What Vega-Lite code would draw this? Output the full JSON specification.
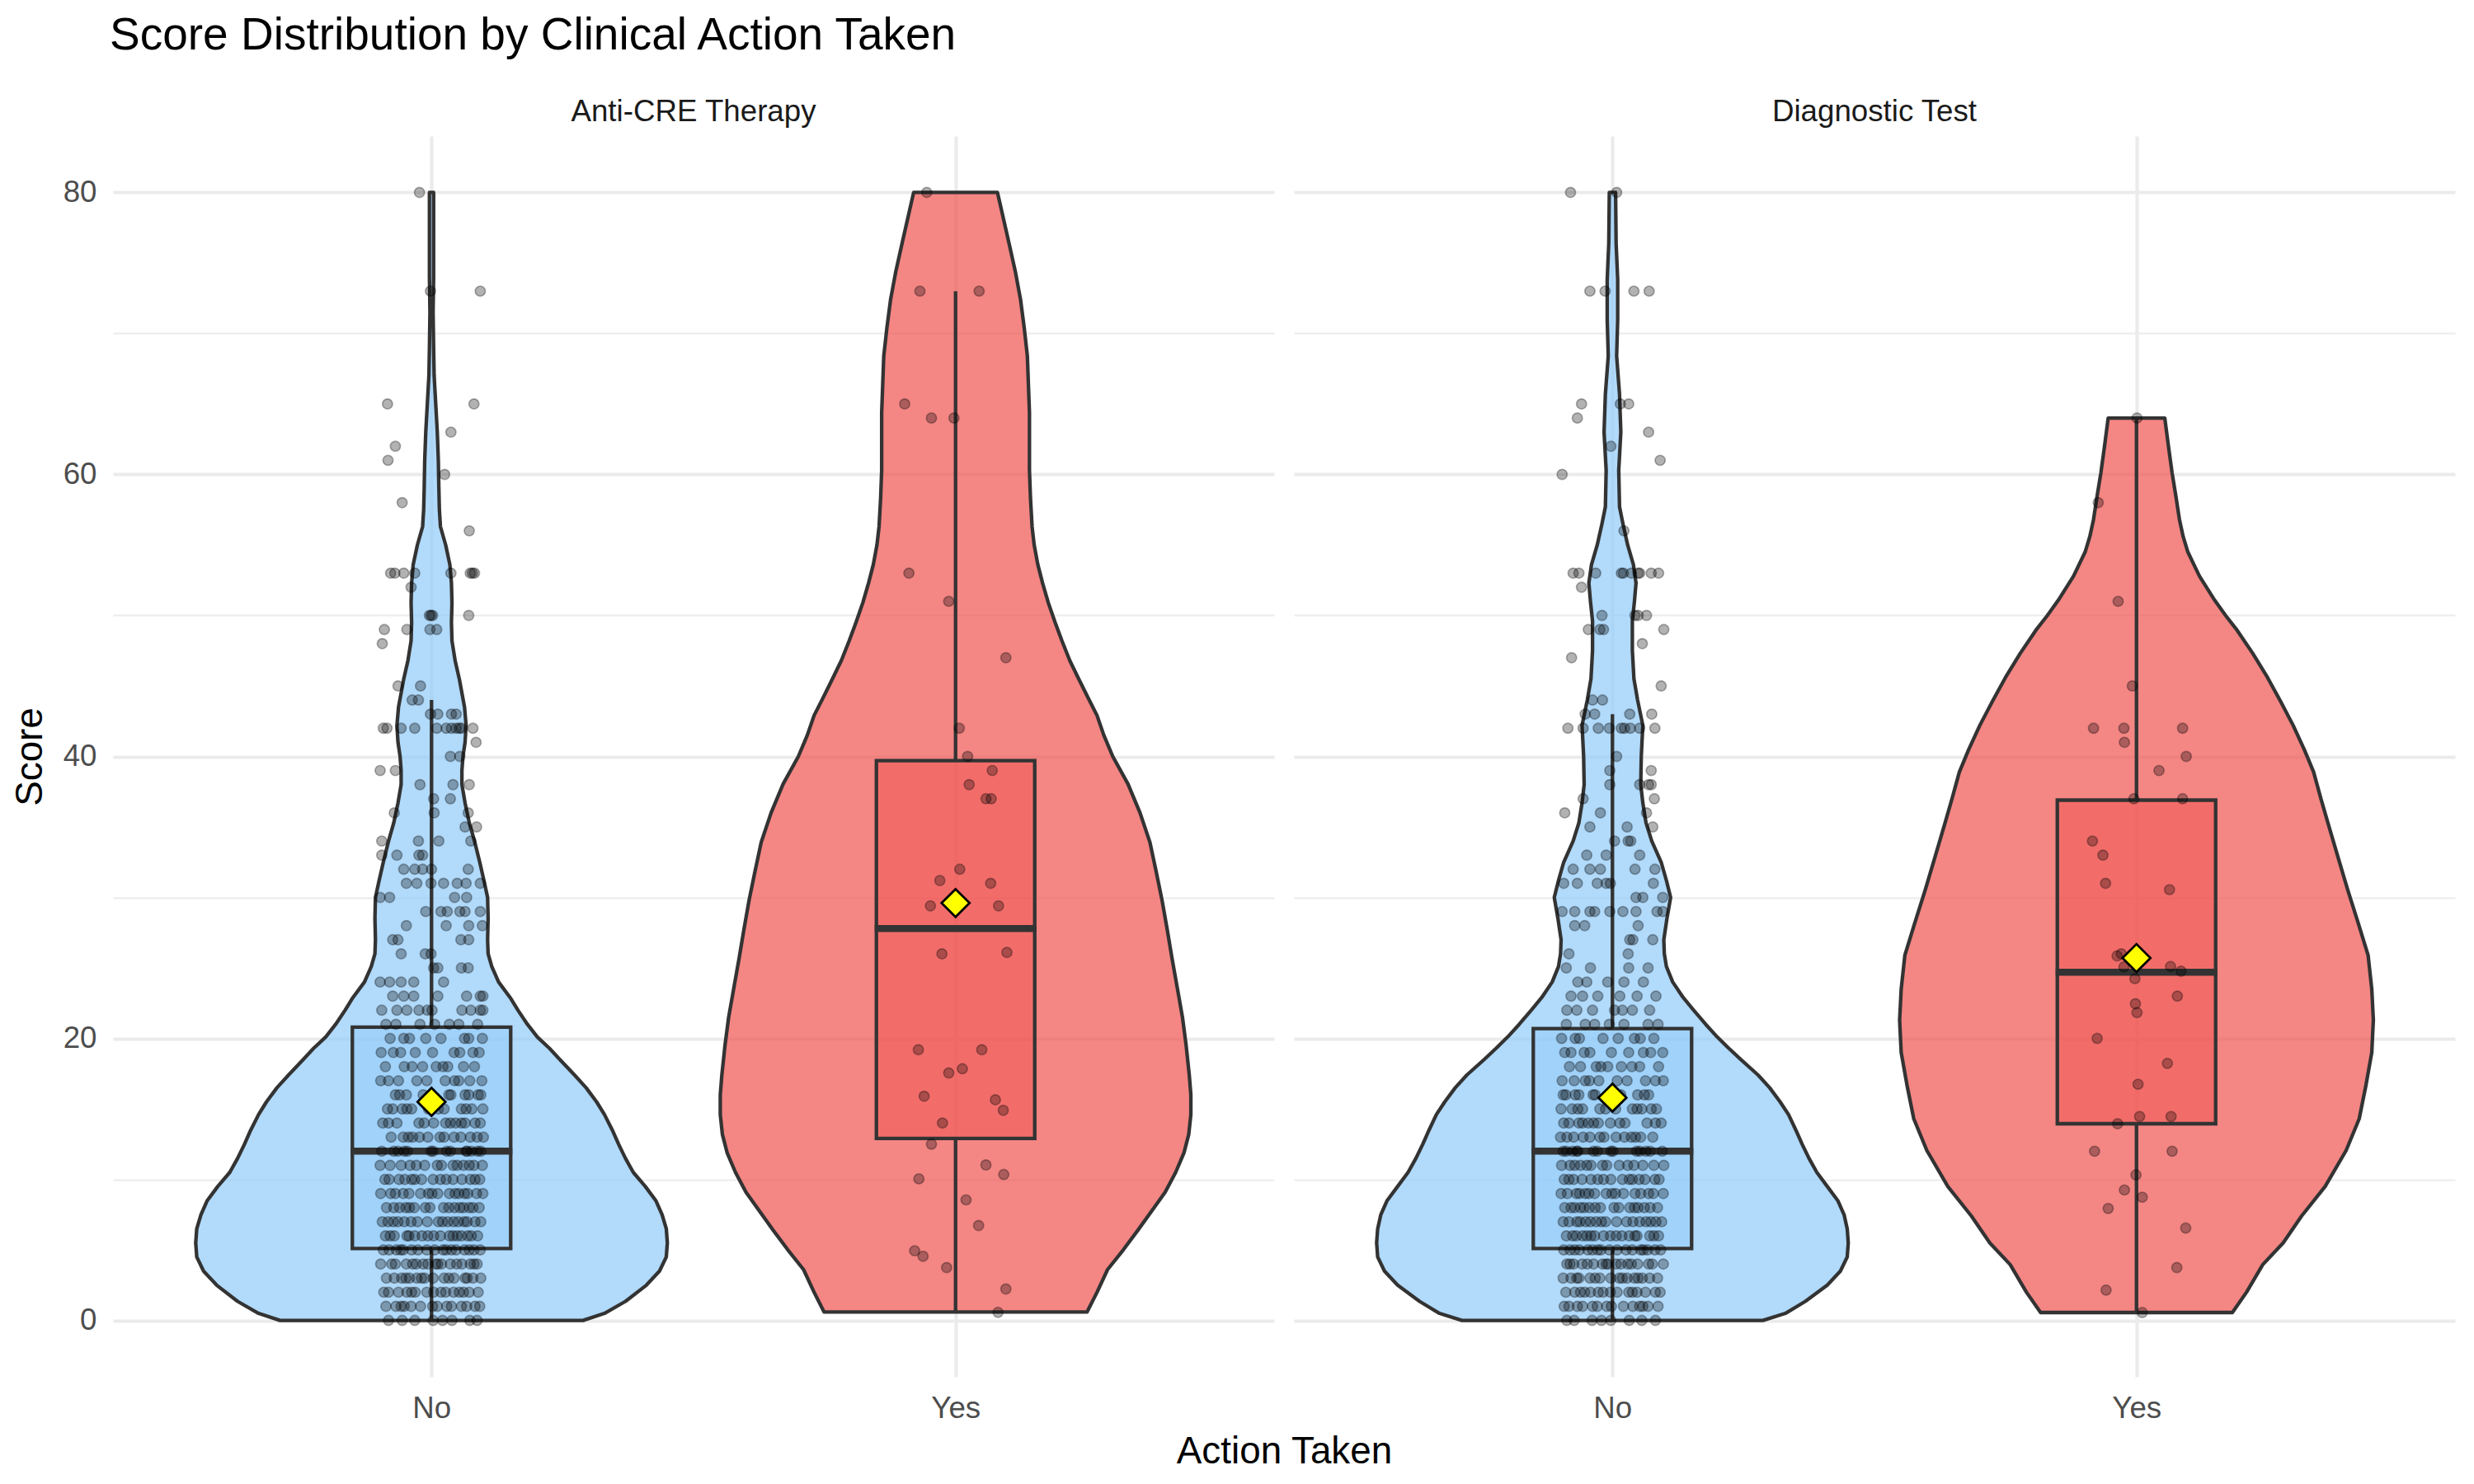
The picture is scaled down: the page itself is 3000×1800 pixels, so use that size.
{
  "$schema": "https://vega.github.io/schema/vega-lite/v6.json",
  "background": "white",
  "padding": {"left": 13, "top": 16, "right": 5, "bottom": 5},
  "bounds": "flush",
  "spacing": 24,
  "title": {"text": "Score Distribution by Clinical Action Taken", "anchor": "start", "frame": "group", "fontSize": 55, "fontWeight": "normal", "color": "#000000", "font": "Liberation Sans", "offset": 46, "dx": -4},
  "datasets": {
    "anti_violin": [
      {"action":"No","score":0,"lo":0.711,"hi":1.289},{"action":"No","score":0.5,"lo":0.67,"hi":1.33},{"action":"No","score":1.35,"lo":0.63,"hi":1.37},{"action":"No","score":2.5,"lo":0.59,"hi":1.41},{"action":"No","score":3.5,"lo":0.565,"hi":1.435},{"action":"No","score":4.5,"lo":0.552,"hi":1.448},{"action":"No","score":5.5,"lo":0.55,"hi":1.45},{"action":"No","score":6.5,"lo":0.552,"hi":1.448},{"action":"No","score":7.5,"lo":0.56,"hi":1.44},{"action":"No","score":8.5,"lo":0.572,"hi":1.428},{"action":"No","score":9.5,"lo":0.592,"hi":1.408},{"action":"No","score":10.5,"lo":0.615,"hi":1.385},{"action":"No","score":11.5,"lo":0.63,"hi":1.37},{"action":"No","score":12.5,"lo":0.643,"hi":1.357},{"action":"No","score":13.5,"lo":0.655,"hi":1.345},{"action":"No","score":14.6,"lo":0.67,"hi":1.33},{"action":"No","score":15.5,"lo":0.685,"hi":1.315},{"action":"No","score":16.5,"lo":0.705,"hi":1.295},{"action":"No","score":17.4,"lo":0.727,"hi":1.273},{"action":"No","score":18.5,"lo":0.755,"hi":1.245},{"action":"No","score":19.3,"lo":0.775,"hi":1.225},{"action":"No","score":20.1,"lo":0.798,"hi":1.202},{"action":"No","score":21,"lo":0.817,"hi":1.183},{"action":"No","score":22,"lo":0.835,"hi":1.165},{"action":"No","score":22.9,"lo":0.85,"hi":1.15},{"action":"No","score":24,"lo":0.872,"hi":1.128},{"action":"No","score":25.1,"lo":0.885,"hi":1.115},{"action":"No","score":26,"lo":0.892,"hi":1.108},{"action":"No","score":27,"lo":0.893,"hi":1.107},{"action":"No","score":28.5,"lo":0.892,"hi":1.108},{"action":"No","score":30,"lo":0.893,"hi":1.107},{"action":"No","score":31.2,"lo":0.9,"hi":1.1},{"action":"No","score":32.5,"lo":0.908,"hi":1.092},{"action":"No","score":34,"lo":0.918,"hi":1.082},{"action":"No","score":35.3,"lo":0.928,"hi":1.072},{"action":"No","score":36.7,"lo":0.936,"hi":1.064},{"action":"No","score":38,"lo":0.942,"hi":1.058},{"action":"No","score":39,"lo":0.942,"hi":1.058},{"action":"No","score":40,"lo":0.94,"hi":1.06},{"action":"No","score":41,"lo":0.936,"hi":1.064},{"action":"No","score":42.2,"lo":0.934,"hi":1.066},{"action":"No","score":43.5,"lo":0.937,"hi":1.063},{"action":"No","score":44.5,"lo":0.942,"hi":1.058},{"action":"No","score":45.5,"lo":0.947,"hi":1.053},{"action":"No","score":46.8,"lo":0.955,"hi":1.045},{"action":"No","score":48.2,"lo":0.961,"hi":1.039},{"action":"No","score":49.5,"lo":0.962,"hi":1.038},{"action":"No","score":50.9,"lo":0.961,"hi":1.039},{"action":"No","score":52.3,"lo":0.962,"hi":1.038},{"action":"No","score":53.6,"lo":0.965,"hi":1.035},{"action":"No","score":55,"lo":0.973,"hi":1.027},{"action":"No","score":56.3,"lo":0.983,"hi":1.017},{"action":"No","score":57.5,"lo":0.985,"hi":1.015},{"action":"No","score":59,"lo":0.986,"hi":1.014},{"action":"No","score":61,"lo":0.987,"hi":1.013},{"action":"No","score":63,"lo":0.989,"hi":1.011},{"action":"No","score":65,"lo":0.992,"hi":1.008},{"action":"No","score":67,"lo":0.995,"hi":1.005},{"action":"No","score":69,"lo":0.996,"hi":1.004},{"action":"No","score":71.5,"lo":0.997,"hi":1.003},{"action":"No","score":74,"lo":0.996,"hi":1.004},{"action":"No","score":77,"lo":0.996,"hi":1.004},{"action":"No","score":80,"lo":0.996,"hi":1.004},
      {"action":"Yes","score":0.6,"lo":1.749,"hi":2.251},{"action":"Yes","score":2,"lo":1.73,"hi":2.27},{"action":"Yes","score":3.6,"lo":1.71,"hi":2.29},{"action":"Yes","score":5,"lo":1.68,"hi":2.32},{"action":"Yes","score":6.4,"lo":1.652,"hi":2.348},{"action":"Yes","score":7.8,"lo":1.625,"hi":2.375},{"action":"Yes","score":9.1,"lo":1.6,"hi":2.4},{"action":"Yes","score":10.5,"lo":1.58,"hi":2.42},{"action":"Yes","score":11.9,"lo":1.564,"hi":2.436},{"action":"Yes","score":13.2,"lo":1.555,"hi":2.445},{"action":"Yes","score":14.6,"lo":1.551,"hi":2.449},{"action":"Yes","score":16,"lo":1.551,"hi":2.449},{"action":"Yes","score":17.4,"lo":1.554,"hi":2.446},{"action":"Yes","score":19.5,"lo":1.56,"hi":2.44},{"action":"Yes","score":21.5,"lo":1.567,"hi":2.433},{"action":"Yes","score":23.6,"lo":1.577,"hi":2.423},{"action":"Yes","score":25.7,"lo":1.587,"hi":2.413},{"action":"Yes","score":27.7,"lo":1.596,"hi":2.404},{"action":"Yes","score":29.8,"lo":1.606,"hi":2.394},{"action":"Yes","score":31.8,"lo":1.617,"hi":2.383},{"action":"Yes","score":33.9,"lo":1.629,"hi":2.371},{"action":"Yes","score":36,"lo":1.648,"hi":2.352},{"action":"Yes","score":38.05,"lo":1.671,"hi":2.329},{"action":"Yes","score":40,"lo":1.7,"hi":2.3},{"action":"Yes","score":41.5,"lo":1.717,"hi":2.283},{"action":"Yes","score":42.9,"lo":1.73,"hi":2.27},{"action":"Yes","score":44,"lo":1.745,"hi":2.255},{"action":"Yes","score":45.5,"lo":1.765,"hi":2.235},{"action":"Yes","score":46.8,"lo":1.782,"hi":2.218},{"action":"Yes","score":48.2,"lo":1.797,"hi":2.203},{"action":"Yes","score":49.5,"lo":1.81,"hi":2.19},{"action":"Yes","score":50.9,"lo":1.823,"hi":2.177},{"action":"Yes","score":52.3,"lo":1.834,"hi":2.166},{"action":"Yes","score":53.6,"lo":1.843,"hi":2.157},{"action":"Yes","score":55,"lo":1.85,"hi":2.15},{"action":"Yes","score":56.3,"lo":1.854,"hi":2.146},{"action":"Yes","score":58.3,"lo":1.857,"hi":2.143},{"action":"Yes","score":60.3,"lo":1.859,"hi":2.141},{"action":"Yes","score":62.3,"lo":1.859,"hi":2.141},{"action":"Yes","score":64.4,"lo":1.859,"hi":2.141},{"action":"Yes","score":66.4,"lo":1.861,"hi":2.139},{"action":"Yes","score":68.4,"lo":1.863,"hi":2.137},{"action":"Yes","score":70.4,"lo":1.869,"hi":2.131},{"action":"Yes","score":72.4,"lo":1.876,"hi":2.124},{"action":"Yes","score":74.4,"lo":1.886,"hi":2.114},{"action":"Yes","score":76.4,"lo":1.898,"hi":2.102},{"action":"Yes","score":78.2,"lo":1.909,"hi":2.091},{"action":"Yes","score":80,"lo":1.92,"hi":2.08}
    ],
    "diag_violin": [
      {"action":"No","score":0,"lo":0.713,"hi":1.287},{"action":"No","score":0.5,"lo":0.67,"hi":1.33},{"action":"No","score":1.35,"lo":0.632,"hi":1.368},{"action":"No","score":2.5,"lo":0.59,"hi":1.41},{"action":"No","score":3.5,"lo":0.565,"hi":1.435},{"action":"No","score":4.5,"lo":0.552,"hi":1.448},{"action":"No","score":5.5,"lo":0.55,"hi":1.45},{"action":"No","score":6.5,"lo":0.552,"hi":1.448},{"action":"No","score":7.5,"lo":0.558,"hi":1.442},{"action":"No","score":8.5,"lo":0.57,"hi":1.43},{"action":"No","score":9.5,"lo":0.59,"hi":1.41},{"action":"No","score":10.5,"lo":0.61,"hi":1.39},{"action":"No","score":11.5,"lo":0.625,"hi":1.375},{"action":"No","score":12.5,"lo":0.638,"hi":1.362},{"action":"No","score":13.5,"lo":0.65,"hi":1.35},{"action":"No","score":14.6,"lo":0.664,"hi":1.336},{"action":"No","score":15.5,"lo":0.68,"hi":1.32},{"action":"No","score":16.5,"lo":0.7,"hi":1.3},{"action":"No","score":17.4,"lo":0.722,"hi":1.278},{"action":"No","score":18.5,"lo":0.755,"hi":1.245},{"action":"No","score":19.3,"lo":0.778,"hi":1.222},{"action":"No","score":20.1,"lo":0.8,"hi":1.2},{"action":"No","score":21,"lo":0.822,"hi":1.178},{"action":"No","score":22,"lo":0.845,"hi":1.155},{"action":"No","score":22.9,"lo":0.865,"hi":1.135},{"action":"No","score":24,"lo":0.885,"hi":1.115},{"action":"No","score":25.1,"lo":0.897,"hi":1.103},{"action":"No","score":26,"lo":0.901,"hi":1.099},{"action":"No","score":27,"lo":0.902,"hi":1.098},{"action":"No","score":28.5,"lo":0.896,"hi":1.104},{"action":"No","score":30,"lo":0.889,"hi":1.111},{"action":"No","score":31.2,"lo":0.897,"hi":1.103},{"action":"No","score":32.5,"lo":0.907,"hi":1.093},{"action":"No","score":34,"lo":0.925,"hi":1.075},{"action":"No","score":35.3,"lo":0.936,"hi":1.064},{"action":"No","score":36.7,"lo":0.942,"hi":1.058},{"action":"No","score":38,"lo":0.946,"hi":1.054},{"action":"No","score":40,"lo":0.945,"hi":1.055},{"action":"No","score":42.2,"lo":0.942,"hi":1.058},{"action":"No","score":44,"lo":0.952,"hi":1.048},{"action":"No","score":45.5,"lo":0.959,"hi":1.041},{"action":"No","score":47.5,"lo":0.962,"hi":1.038},{"action":"No","score":49.6,"lo":0.962,"hi":1.038},{"action":"No","score":51,"lo":0.958,"hi":1.042},{"action":"No","score":52.3,"lo":0.955,"hi":1.045},{"action":"No","score":53.6,"lo":0.96,"hi":1.04},{"action":"No","score":55,"lo":0.971,"hi":1.029},{"action":"No","score":56.5,"lo":0.98,"hi":1.02},{"action":"No","score":57.7,"lo":0.9865,"hi":1.0135},{"action":"No","score":60.3,"lo":0.988,"hi":1.012},{"action":"No","score":63,"lo":0.984,"hi":1.016},{"action":"No","score":65.7,"lo":0.9865,"hi":1.0135},{"action":"No","score":68.4,"lo":0.992,"hi":1.008},{"action":"No","score":71,"lo":0.99,"hi":1.01},{"action":"No","score":73.8,"lo":0.99,"hi":1.01},{"action":"No","score":76.4,"lo":0.993,"hi":1.007},{"action":"No","score":80,"lo":0.994,"hi":1.006},
      {"action":"Yes","score":0.56,"lo":1.817,"hi":2.183},{"action":"Yes","score":2,"lo":1.79,"hi":2.21},{"action":"Yes","score":3.96,"lo":1.759,"hi":2.241},{"action":"Yes","score":5.5,"lo":1.72,"hi":2.28},{"action":"Yes","score":7.4,"lo":1.685,"hi":2.315},{"action":"Yes","score":9.5,"lo":1.64,"hi":2.36},{"action":"Yes","score":12.05,"lo":1.6,"hi":2.4},{"action":"Yes","score":14.3,"lo":1.575,"hi":2.425},{"action":"Yes","score":16.7,"lo":1.562,"hi":2.438},{"action":"Yes","score":19,"lo":1.551,"hi":2.449},{"action":"Yes","score":21.3,"lo":1.548,"hi":2.452},{"action":"Yes","score":23.5,"lo":1.551,"hi":2.449},{"action":"Yes","score":25.9,"lo":1.558,"hi":2.442},{"action":"Yes","score":28.2,"lo":1.577,"hi":2.423},{"action":"Yes","score":30.55,"lo":1.597,"hi":2.403},{"action":"Yes","score":32.8,"lo":1.615,"hi":2.385},{"action":"Yes","score":35.2,"lo":1.634,"hi":2.366},{"action":"Yes","score":37,"lo":1.648,"hi":2.352},{"action":"Yes","score":38.9,"lo":1.662,"hi":2.338},{"action":"Yes","score":40.5,"lo":1.68,"hi":2.32},{"action":"Yes","score":42.2,"lo":1.701,"hi":2.299},{"action":"Yes","score":43.9,"lo":1.725,"hi":2.275},{"action":"Yes","score":45.6,"lo":1.75,"hi":2.25},{"action":"Yes","score":47.3,"lo":1.778,"hi":2.222},{"action":"Yes","score":48.95,"lo":1.808,"hi":2.192},{"action":"Yes","score":50,"lo":1.83,"hi":2.17},{"action":"Yes","score":51.2,"lo":1.853,"hi":2.147},{"action":"Yes","score":52.8,"lo":1.88,"hi":2.12},{"action":"Yes","score":54.5,"lo":1.902,"hi":2.098},{"action":"Yes","score":55.6,"lo":1.911,"hi":2.089},{"action":"Yes","score":56.8,"lo":1.918,"hi":2.082},{"action":"Yes","score":58.5,"lo":1.925,"hi":2.075},{"action":"Yes","score":60.1,"lo":1.932,"hi":2.068},{"action":"Yes","score":62,"lo":1.939,"hi":2.061},{"action":"Yes","score":64,"lo":1.946,"hi":2.054}
    ],
    "anti_box": [
      {"action":"No","pos":1,"lower":0,"q1":5.1,"median":12,"q3":20.8,"upper":44,"mean":15.5},
      {"action":"Yes","pos":2,"lower":0.6,"q1":12.9,"median":27.8,"q3":39.7,"upper":73,"mean":29.6}
    ],
    "diag_box": [
      {"action":"No","pos":1,"lower":0,"q1":5.1,"median":12,"q3":20.7,"upper":43,"mean":15.8},
      {"action":"Yes","pos":2,"lower":0.56,"q1":13.95,"median":24.7,"q3":36.9,"upper":64,"mean":25.7}
    ],
    "anti_points": [
      {"x":0.977,"score":80},{"x":0.998,"score":73},{"x":1.093,"score":73},{"x":0.916,"score":65},{"x":1.081,"score":65},{"x":1.037,"score":63},{"x":0.931,"score":62},{"x":0.917,"score":61},{"x":1.025,"score":60},{"x":0.944,"score":58},{"x":1.072,"score":56},
      {"x":0.922,"score":53},{"x":0.93,"score":53},{"x":0.947,"score":53},{"x":0.968,"score":53},{"x":1.037,"score":53},{"x":1.074,"score":53},{"x":1.078,"score":53},{"x":1.082,"score":53},{"x":0.961,"score":52},
      {"x":0.996,"score":50},{"x":0.999,"score":50},{"x":1.002,"score":50},{"x":1.071,"score":50},{"x":0.91,"score":49},{"x":0.953,"score":49},{"x":0.997,"score":49},{"x":1.01,"score":49},{"x":0.906,"score":48},
      {"x":0.936,"score":45},{"x":0.979,"score":45},{"x":0.963,"score":44},{"x":0.975,"score":44},{"x":0.998,"score":43},{"x":1.012,"score":43},{"x":1.038,"score":43},{"x":1.047,"score":43},
      {"x":0.908,"score":42},{"x":0.915,"score":42},{"x":0.942,"score":42},{"x":0.968,"score":42},{"x":1.01,"score":42},{"x":1.028,"score":42},{"x":1.038,"score":42},{"x":1.047,"score":42},{"x":1.053,"score":42},{"x":1.057,"score":42},{"x":1.079,"score":42},
      {"x":1.085,"score":41},{"x":1.036,"score":40},{"x":1.054,"score":40},{"x":0.902,"score":39},{"x":0.931,"score":39},{"x":0.978,"score":38},{"x":1.041,"score":38},{"x":1.072,"score":38},{"x":1.004,"score":37},{"x":1.036,"score":37},
      {"x":0.929,"score":36},{"x":1.005,"score":36},{"x":1.07,"score":36},{"x":1.064,"score":35},{"x":1.086,"score":35},{"x":0.905,"score":34},{"x":0.975,"score":34},{"x":1.014,"score":34},{"x":1.075,"score":34},
      {"x":0.905,"score":33},{"x":0.934,"score":33},{"x":0.976,"score":33},{"x":0.983,"score":33},{"x":0.947,"score":32},{"x":0.968,"score":32},{"x":0.983,"score":32},{"x":1.0,"score":32},{"x":1.07,"score":32},
      {"x":0.952,"score":31},{"x":0.972,"score":31},{"x":0.999,"score":31},{"x":1.023,"score":31},{"x":1.049,"score":31},{"x":1.066,"score":31},{"x":1.093,"score":31},{"x":0.902,"score":30},{"x":0.92,"score":30},{"x":1.044,"score":30},{"x":1.067,"score":30},
      {"x":0.989,"score":29},{"x":1.018,"score":29},{"x":1.03,"score":29},{"x":1.054,"score":29},{"x":1.064,"score":29},{"x":1.093,"score":29},{"x":0.952,"score":28},{"x":1.028,"score":28},{"x":1.071,"score":28},{"x":1.097,"score":28},
      {"x":0.926,"score":27},{"x":0.936,"score":27},{"x":1.056,"score":27},{"x":1.071,"score":27},{"x":0.942,"score":26},{"x":0.988,"score":26},{"x":0.999,"score":26},{"x":1.004,"score":25},{"x":1.012,"score":25},{"x":1.057,"score":25},{"x":1.07,"score":25},
      {"x":0.902,"score":24},{"x":0.92,"score":24},{"x":0.942,"score":24},{"x":0.966,"score":24},{"x":1.023,"score":24},{"x":0.926,"score":23},{"x":0.947,"score":23},{"x":0.966,"score":23},{"x":1.012,"score":23},{"x":1.067,"score":23},{"x":1.093,"score":23},{"x":1.098,"score":23},
      {"x":0.905,"score":22},{"x":0.934,"score":22},{"x":0.953,"score":22},{"x":0.976,"score":22},{"x":0.992,"score":22},{"x":1.001,"score":22},{"x":1.058,"score":22},{"x":1.075,"score":22},{"x":1.093,"score":22},{"x":1.098,"score":22},
      {"x":0.932,"score":21},{"x":1.034,"score":21},{"x":1.088,"score":21},{"x":0.978,"score":21},{"x":0.913,"score":21},{"x":1.052,"score":21},{"x":1.006,"score":21},
      {"x":0.947,"score":20},{"x":1.071,"score":20},{"x":0.921,"score":20},{"x":1.018,"score":20},{"x":1.063,"score":20},{"x":0.958,"score":20},{"x":1.097,"score":20},{"x":0.989,"score":20},
      {"x":0.941,"score":19},{"x":1.043,"score":19},{"x":1.079,"score":19},{"x":0.904,"score":19},{"x":1.002,"score":19},{"x":0.969,"score":19},{"x":1.054,"score":19},{"x":0.927,"score":19},{"x":1.091,"score":19},
      {"x":1.022,"score":18},{"x":0.912,"score":18},{"x":1.061,"score":18},{"x":0.983,"score":18},{"x":1.031,"score":18},{"x":0.948,"score":18},{"x":1.082,"score":18},{"x":0.963,"score":18},{"x":1.009,"score":18},
      {"x":1.073,"score":17},{"x":0.918,"score":17},{"x":1.044,"score":17},{"x":0.937,"score":17},{"x":1.096,"score":17},{"x":0.991,"score":17},{"x":1.052,"score":17},{"x":0.972,"score":17},{"x":1.026,"score":17},{"x":0.903,"score":17},
      {"x":1.064,"score":16},{"x":0.998,"score":16},{"x":0.931,"score":16},{"x":1.089,"score":16},{"x":0.952,"score":16},{"x":1.033,"score":16},{"x":1.071,"score":16},{"x":0.939,"score":16},{"x":1.037,"score":16},{"x":1.094,"score":16},{"x":0.984,"score":16},
      {"x":0.916,"score":15},{"x":1.057,"score":15},{"x":1.013,"score":15},{"x":0.953,"score":15},{"x":1.077,"score":15},{"x":0.926,"score":15},{"x":1.024,"score":15},{"x":1.066,"score":15},{"x":0.962,"score":15},{"x":1.098,"score":15},{"x":0.994,"score":15},{"x":0.944,"score":15},
      {"x":1.046,"score":14},{"x":1.083,"score":14},{"x":0.907,"score":14},{"x":1.004,"score":14},{"x":0.976,"score":14},{"x":1.057,"score":14},{"x":0.934,"score":14},{"x":1.093,"score":14},{"x":1.027,"score":14},{"x":0.918,"score":14},{"x":1.064,"score":14},{"x":0.986,"score":14},{"x":1.036,"score":14},
      {"x":0.956,"score":13},{"x":1.087,"score":13},{"x":0.964,"score":13},{"x":1.016,"score":13},{"x":1.074,"score":13},{"x":0.923,"score":13},{"x":1.043,"score":13},{"x":0.946,"score":13},{"x":1.099,"score":13},{"x":0.993,"score":13},{"x":1.056,"score":13},{"x":0.977,"score":13},{"x":1.024,"score":13},
      {"x":0.905,"score":12},{"x":1.066,"score":12},{"x":1.003,"score":12},{"x":0.936,"score":12},{"x":1.094,"score":12},{"x":0.954,"score":12},{"x":1.036,"score":12},{"x":1.076,"score":12},{"x":1.068,"score":12},{"x":1.029,"score":12},{"x":0.948,"score":12},{"x":1.088,"score":12},{"x":0.928,"score":12},{"x":0.999,"score":12},
      {"x":1.061,"score":11},{"x":0.902,"score":11},{"x":1.019,"score":11},{"x":0.971,"score":11},{"x":1.049,"score":11},{"x":0.987,"score":11},{"x":1.097,"score":11},{"x":0.942,"score":11},{"x":1.041,"score":11},{"x":0.921,"score":11},{"x":1.072,"score":11},{"x":1.011,"score":11},{"x":0.959,"score":11},{"x":1.081,"score":11},
      {"x":0.962,"score":10},{"x":1.041,"score":10},{"x":0.911,"score":10},{"x":1.083,"score":10},{"x":1.003,"score":10},{"x":0.938,"score":10},{"x":1.058,"score":10},{"x":0.981,"score":10},{"x":1.028,"score":10},{"x":0.919,"score":10},{"x":1.092,"score":10},{"x":0.968,"score":10},{"x":1.017,"score":10},{"x":0.949,"score":10},{"x":1.074,"score":10},
      {"x":1.012,"score":9},{"x":0.931,"score":9},{"x":1.052,"score":9},{"x":0.994,"score":9},{"x":1.098,"score":9},{"x":0.957,"score":9},{"x":1.034,"score":9},{"x":0.903,"score":9},{"x":1.069,"score":9},{"x":0.979,"score":9},{"x":1.045,"score":9},{"x":0.922,"score":9},{"x":1.063,"score":9},{"x":1.001,"score":9},{"x":0.946,"score":9},{"x":1.086,"score":9},
      {"x":0.939,"score":8},{"x":1.023,"score":8},{"x":1.091,"score":8},{"x":0.967,"score":8},{"x":1.054,"score":8},{"x":0.914,"score":8},{"x":0.997,"score":8},{"x":1.072,"score":8},{"x":0.958,"score":8},{"x":1.033,"score":8},{"x":0.928,"score":8},{"x":1.061,"score":8},{"x":0.988,"score":8},{"x":1.044,"score":8},{"x":0.951,"score":8},{"x":1.079,"score":8},
      {"x":1.031,"score":7},{"x":0.948,"score":7},{"x":1.083,"score":7},{"x":0.917,"score":7},{"x":1.013,"score":7},{"x":0.973,"score":7},{"x":1.062,"score":7},{"x":0.906,"score":7},{"x":1.042,"score":7},{"x":0.992,"score":7},{"x":1.094,"score":7},{"x":0.936,"score":7},{"x":1.021,"score":7},{"x":0.961,"score":7},{"x":1.068,"score":7},{"x":0.927,"score":7},{"x":1.051,"score":7},
      {"x":0.982,"score":6},{"x":1.057,"score":6},{"x":0.912,"score":6},{"x":1.034,"score":6},{"x":0.953,"score":6},{"x":1.088,"score":6},{"x":1.004,"score":6},{"x":0.929,"score":6},{"x":1.049,"score":6},{"x":0.968,"score":6},{"x":1.076,"score":6},{"x":0.921,"score":6},{"x":1.017,"score":6},{"x":0.957,"score":6},{"x":1.041,"score":6},{"x":0.993,"score":6},{"x":1.069,"score":6},
      {"x":1.047,"score":5},{"x":0.933,"score":5},{"x":0.991,"score":5},{"x":1.081,"score":5},{"x":0.946,"score":5},{"x":1.022,"score":5},{"x":0.908,"score":5},{"x":1.063,"score":5},{"x":0.974,"score":5},{"x":1.038,"score":5},{"x":1.006,"score":5},{"x":0.941,"score":5},{"x":1.093,"score":5},{"x":0.962,"score":5},{"x":1.028,"score":5},{"x":0.919,"score":5},{"x":1.072,"score":5},
      {"x":0.971,"score":4},{"x":1.036,"score":4},{"x":0.924,"score":4},{"x":1.074,"score":4},{"x":1.008,"score":4},{"x":0.952,"score":4},{"x":1.087,"score":4},{"x":0.984,"score":4},{"x":1.019,"score":4},{"x":0.931,"score":4},{"x":1.058,"score":4},{"x":0.964,"score":4},{"x":1.012,"score":4},{"x":0.903,"score":4},{"x":1.048,"score":4},{"x":0.993,"score":4},{"x":1.081,"score":4},
      {"x":1.024,"score":3},{"x":0.943,"score":3},{"x":1.064,"score":3},{"x":0.987,"score":3},{"x":0.914,"score":3},{"x":1.079,"score":3},{"x":0.958,"score":3},{"x":1.043,"score":3},{"x":1.003,"score":3},{"x":0.929,"score":3},{"x":1.068,"score":3},{"x":0.972,"score":3},{"x":1.033,"score":3},{"x":0.951,"score":3},{"x":1.094,"score":3},{"x":0.981,"score":3},
      {"x":0.953,"score":2},{"x":1.027,"score":2},{"x":1.072,"score":2},{"x":0.918,"score":2},{"x":1.004,"score":2},{"x":0.969,"score":2},{"x":1.053,"score":2},{"x":0.937,"score":2},{"x":1.089,"score":2},{"x":0.991,"score":2},{"x":1.018,"score":2},{"x":0.962,"score":2},{"x":1.061,"score":2},{"x":0.909,"score":2},{"x":1.042,"score":2},
      {"x":1.038,"score":1},{"x":0.961,"score":1},{"x":1.083,"score":1},{"x":0.932,"score":1},{"x":1.011,"score":1},{"x":0.979,"score":1},{"x":1.057,"score":1},{"x":0.913,"score":1},{"x":1.029,"score":1},{"x":0.948,"score":1},{"x":1.092,"score":1},{"x":1.002,"score":1},{"x":0.942,"score":1},{"x":1.067,"score":1},
      {"x":0.944,"score":0},{"x":1.021,"score":0},{"x":1.073,"score":0},{"x":0.968,"score":0},{"x":1.039,"score":0},{"x":0.918,"score":0},{"x":1.003,"score":0},{"x":1.087,"score":0},
      {"x":1.945,"score":80},{"x":1.932,"score":73},{"x":2.045,"score":73},{"x":1.903,"score":65},{"x":1.954,"score":64},{"x":1.997,"score":64},{"x":1.911,"score":53},{"x":1.987,"score":51},{"x":2.096,"score":47},{"x":2.007,"score":42},{"x":2.023,"score":40},{"x":2.07,"score":39},{"x":2.026,"score":38},{"x":2.058,"score":37},{"x":2.068,"score":37},{"x":2.008,"score":32},{"x":1.97,"score":31.2},{"x":2.067,"score":31},{"x":1.952,"score":29.4},{"x":2.082,"score":29.4},{"x":1.974,"score":26},{"x":2.098,"score":26.1},{"x":1.929,"score":19.2},{"x":2.05,"score":19.2},{"x":1.987,"score":17.55},{"x":2.013,"score":17.85},{"x":1.94,"score":15.9},{"x":2.076,"score":15.65},{"x":2.091,"score":14.9},{"x":1.975,"score":14},{"x":1.954,"score":12.5},{"x":2.058,"score":11.03},{"x":2.092,"score":10.35},{"x":1.93,"score":10.04},{"x":2.02,"score":8.55},{"x":2.044,"score":6.73},{"x":1.922,"score":4.94},{"x":1.938,"score":4.55},{"x":1.983,"score":3.75},{"x":2.096,"score":2.23},{"x":2.081,"score":0.57}
    ],
    "diag_points": [
      {"x":0.92,"score":80},{"x":1.008,"score":80},{"x":0.957,"score":73},{"x":0.986,"score":73},{"x":1.041,"score":73},{"x":1.07,"score":73},{"x":0.941,"score":65},{"x":1.015,"score":65},{"x":1.031,"score":65},{"x":0.933,"score":64},{"x":1.069,"score":63},{"x":0.997,"score":62},{"x":1.091,"score":61},{"x":0.904,"score":60},{"x":1.022,"score":56},
      {"x":0.925,"score":53},{"x":0.936,"score":53},{"x":0.968,"score":53},{"x":1.017,"score":53},{"x":1.021,"score":53},{"x":1.036,"score":53},{"x":1.049,"score":53},{"x":1.052,"score":53},{"x":1.074,"score":53},{"x":1.088,"score":53},{"x":0.941,"score":52},
      {"x":0.98,"score":50},{"x":1.043,"score":50},{"x":1.049,"score":50},{"x":1.065,"score":50},{"x":0.954,"score":49},{"x":0.976,"score":49},{"x":0.983,"score":49},{"x":1.098,"score":49},{"x":1.057,"score":48},{"x":0.922,"score":47},{"x":1.093,"score":45},{"x":0.962,"score":44},{"x":0.981,"score":44},
      {"x":0.948,"score":43},{"x":0.966,"score":43},{"x":1.033,"score":43},{"x":1.075,"score":43},{"x":0.915,"score":42},{"x":0.944,"score":42},{"x":0.973,"score":42},{"x":0.994,"score":42},{"x":1.017,"score":42},{"x":1.023,"score":42},{"x":1.034,"score":42},{"x":1.052,"score":42},{"x":1.081,"score":42},
      {"x":1.008,"score":40},{"x":0.995,"score":39},{"x":1.074,"score":39},{"x":0.995,"score":38},{"x":1.052,"score":38},{"x":1.069,"score":38},{"x":1.074,"score":38},{"x":0.944,"score":37},{"x":1.08,"score":37},{"x":0.909,"score":36},{"x":0.977,"score":36},{"x":1.065,"score":36},
      {"x":0.957,"score":35},{"x":1.028,"score":35},{"x":1.077,"score":35},{"x":1.004,"score":34},{"x":1.03,"score":34},{"x":1.035,"score":34},{"x":0.951,"score":33},{"x":0.988,"score":33},{"x":1.052,"score":33},
      {"x":0.925,"score":32},{"x":0.957,"score":32},{"x":0.977,"score":32},{"x":1.043,"score":32},{"x":1.081,"score":32},{"x":0.907,"score":31},{"x":0.933,"score":31},{"x":0.971,"score":31},{"x":0.988,"score":31},{"x":0.996,"score":31},{"x":1.078,"score":31},
      {"x":1.045,"score":30},{"x":1.058,"score":30},{"x":1.096,"score":30},{"x":0.904,"score":29},{"x":0.928,"score":29},{"x":0.957,"score":29},{"x":0.966,"score":29},{"x":0.995,"score":29},{"x":1.02,"score":29},{"x":1.045,"score":29},{"x":1.085,"score":29},{"x":1.096,"score":29},
      {"x":0.928,"score":28},{"x":0.947,"score":28},{"x":1.049,"score":28},{"x":1.033,"score":27},{"x":1.039,"score":27},{"x":1.077,"score":27},{"x":0.917,"score":26},{"x":1.03,"score":26},
      {"x":0.912,"score":25},{"x":0.958,"score":25},{"x":1.031,"score":25},{"x":1.068,"score":25},{"x":0.934,"score":24},{"x":0.991,"score":24},{"x":1.022,"score":24},{"x":1.059,"score":24},{"x":0.951,"score":24},
      {"x":0.921,"score":23},{"x":0.972,"score":23},{"x":1.014,"score":23},{"x":1.047,"score":23},{"x":1.083,"score":23},{"x":0.943,"score":23},{"x":0.962,"score":22},{"x":1.038,"score":22},{"x":0.913,"score":22},{"x":1.004,"score":22},{"x":1.071,"score":22},{"x":0.932,"score":22},{"x":1.019,"score":22},
      {"x":1.068,"score":21},{"x":0.966,"score":21},{"x":0.912,"score":21},{"x":1.022,"score":21},{"x":1.087,"score":21},{"x":0.948,"score":21},{"x":0.994,"score":21},
      {"x":1.053,"score":20},{"x":0.929,"score":20},{"x":1.079,"score":20},{"x":0.982,"score":20},{"x":0.937,"score":20},{"x":1.042,"score":20},{"x":0.903,"score":20},{"x":1.011,"score":20},
      {"x":1.059,"score":19},{"x":0.957,"score":19},{"x":0.921,"score":19},{"x":1.096,"score":19},{"x":0.998,"score":19},{"x":1.031,"score":19},{"x":0.946,"score":19},{"x":1.073,"score":19},{"x":0.909,"score":19},
      {"x":0.978,"score":18},{"x":1.088,"score":18},{"x":0.939,"score":18},{"x":1.017,"score":18},{"x":0.969,"score":18},{"x":1.052,"score":18},{"x":0.918,"score":18},{"x":1.037,"score":18},{"x":0.991,"score":18},
      {"x":0.927,"score":17},{"x":1.082,"score":17},{"x":0.956,"score":17},{"x":1.063,"score":17},{"x":0.904,"score":17},{"x":1.009,"score":17},{"x":0.948,"score":17},{"x":1.028,"score":17},{"x":0.974,"score":17},{"x":1.097,"score":17},
      {"x":0.936,"score":16},{"x":1.002,"score":16},{"x":1.069,"score":16},{"x":0.911,"score":16},{"x":1.048,"score":16},{"x":0.967,"score":16},{"x":0.929,"score":16},{"x":1.061,"score":16},{"x":0.963,"score":16},{"x":0.906,"score":16},{"x":1.016,"score":16},
      {"x":1.084,"score":15},{"x":0.943,"score":15},{"x":0.987,"score":15},{"x":1.047,"score":15},{"x":0.923,"score":15},{"x":1.074,"score":15},{"x":0.976,"score":15},{"x":0.934,"score":15},{"x":1.038,"score":15},{"x":0.902,"score":15},{"x":1.006,"score":15},{"x":1.056,"score":15},
      {"x":0.954,"score":14},{"x":0.917,"score":14},{"x":1.093,"score":14},{"x":0.996,"score":14},{"x":1.024,"score":14},{"x":0.943,"score":14},{"x":1.066,"score":14},{"x":0.907,"score":14},{"x":0.973,"score":14},{"x":1.082,"score":14},{"x":0.936,"score":14},{"x":1.014,"score":14},{"x":0.964,"score":14},
      {"x":1.044,"score":13},{"x":0.913,"score":13},{"x":1.036,"score":13},{"x":0.984,"score":13},{"x":0.926,"score":13},{"x":1.077,"score":13},{"x":0.957,"score":13},{"x":1.054,"score":13},{"x":0.901,"score":13},{"x":1.007,"score":13},{"x":0.944,"score":13},{"x":1.023,"score":13},{"x":0.976,"score":13},
      {"x":1.095,"score":12},{"x":0.934,"score":12},{"x":0.997,"score":12},{"x":1.064,"score":12},{"x":0.906,"score":12},{"x":1.046,"score":12},{"x":0.964,"score":12},{"x":0.924,"score":12},{"x":0.932,"score":12},{"x":0.971,"score":12},{"x":1.052,"score":12},{"x":0.912,"score":12},{"x":1.072,"score":12},{"x":1.001,"score":12},
      {"x":0.939,"score":11},{"x":1.098,"score":11},{"x":0.981,"score":11},{"x":1.029,"score":11},{"x":0.951,"score":11},{"x":1.013,"score":11},{"x":0.903,"score":11},{"x":1.058,"score":11},{"x":0.959,"score":11},{"x":1.079,"score":11},{"x":0.928,"score":11},{"x":0.989,"score":11},{"x":1.041,"score":11},{"x":0.919,"score":11},
      {"x":1.038,"score":10},{"x":0.959,"score":10},{"x":1.089,"score":10},{"x":0.917,"score":10},{"x":0.997,"score":10},{"x":1.062,"score":10},{"x":0.942,"score":10},{"x":1.019,"score":10},{"x":0.972,"score":10},{"x":1.081,"score":10},{"x":0.908,"score":10},{"x":1.032,"score":10},{"x":0.983,"score":10},{"x":1.051,"score":10},{"x":0.926,"score":10},
      {"x":0.988,"score":9},{"x":1.069,"score":9},{"x":0.948,"score":9},{"x":1.006,"score":9},{"x":0.902,"score":9},{"x":1.043,"score":9},{"x":0.966,"score":9},{"x":1.097,"score":9},{"x":0.931,"score":9},{"x":1.021,"score":9},{"x":0.955,"score":9},{"x":1.078,"score":9},{"x":0.937,"score":9},{"x":0.999,"score":9},{"x":1.054,"score":9},{"x":0.914,"score":9},
      {"x":1.061,"score":8},{"x":0.977,"score":8},{"x":0.909,"score":8},{"x":1.033,"score":8},{"x":0.946,"score":8},{"x":1.086,"score":8},{"x":1.003,"score":8},{"x":0.928,"score":8},{"x":1.042,"score":8},{"x":0.967,"score":8},{"x":1.072,"score":8},{"x":0.939,"score":8},{"x":1.012,"score":8},{"x":0.956,"score":8},{"x":1.049,"score":8},{"x":0.921,"score":8},
      {"x":0.969,"score":7},{"x":1.052,"score":7},{"x":0.917,"score":7},{"x":1.083,"score":7},{"x":0.987,"score":7},{"x":1.027,"score":7},{"x":0.938,"score":7},{"x":1.094,"score":7},{"x":0.958,"score":7},{"x":1.008,"score":7},{"x":0.906,"score":7},{"x":1.064,"score":7},{"x":0.979,"score":7},{"x":1.039,"score":7},{"x":0.932,"score":7},{"x":1.073,"score":7},{"x":0.949,"score":7},
      {"x":1.018,"score":6},{"x":0.943,"score":6},{"x":1.088,"score":6},{"x":0.966,"score":6},{"x":1.047,"score":6},{"x":0.912,"score":6},{"x":0.996,"score":6},{"x":1.071,"score":6},{"x":0.951,"score":6},{"x":1.032,"score":6},{"x":0.924,"score":6},{"x":1.079,"score":6},{"x":0.983,"score":6},{"x":1.043,"score":6},{"x":0.959,"score":6},{"x":1.007,"score":6},{"x":0.931,"score":6},
      {"x":0.953,"score":5},{"x":1.067,"score":5},{"x":1.009,"score":5},{"x":0.919,"score":5},{"x":1.054,"score":5},{"x":0.978,"score":5},{"x":1.092,"score":5},{"x":0.937,"score":5},{"x":1.026,"score":5},{"x":0.962,"score":5},{"x":0.994,"score":5},{"x":1.059,"score":5},{"x":0.907,"score":5},{"x":1.038,"score":5},{"x":0.972,"score":5},{"x":1.081,"score":5},{"x":0.928,"score":5},
      {"x":1.029,"score":4},{"x":0.964,"score":4},{"x":1.076,"score":4},{"x":0.926,"score":4},{"x":0.992,"score":4},{"x":1.048,"score":4},{"x":0.913,"score":4},{"x":1.016,"score":4},{"x":0.981,"score":4},{"x":1.069,"score":4},{"x":0.942,"score":4},{"x":1.036,"score":4},{"x":0.988,"score":4},{"x":1.097,"score":4},{"x":0.952,"score":4},{"x":1.007,"score":4},{"x":0.919,"score":4},
      {"x":0.976,"score":3},{"x":1.057,"score":3},{"x":0.936,"score":3},{"x":1.013,"score":3},{"x":1.086,"score":3},{"x":0.921,"score":3},{"x":1.042,"score":3},{"x":0.957,"score":3},{"x":0.997,"score":3},{"x":1.071,"score":3},{"x":0.932,"score":3},{"x":1.028,"score":3},{"x":0.967,"score":3},{"x":1.049,"score":3},{"x":0.906,"score":3},{"x":1.019,"score":3},
      {"x":1.047,"score":2},{"x":0.973,"score":2},{"x":0.928,"score":2},{"x":1.082,"score":2},{"x":0.996,"score":2},{"x":1.031,"score":2},{"x":0.947,"score":2},{"x":1.063,"score":2},{"x":0.911,"score":2},{"x":1.009,"score":2},{"x":0.982,"score":2},{"x":1.038,"score":2},{"x":0.939,"score":2},{"x":1.091,"score":2},{"x":0.958,"score":2},
      {"x":0.962,"score":1},{"x":1.039,"score":1},{"x":0.917,"score":1},{"x":1.068,"score":1},{"x":0.989,"score":1},{"x":1.021,"score":1},{"x":0.943,"score":1},{"x":1.087,"score":1},{"x":0.971,"score":1},{"x":1.052,"score":1},{"x":0.908,"score":1},{"x":0.998,"score":1},{"x":1.058,"score":1},{"x":0.933,"score":1},
      {"x":1.056,"score":0},{"x":0.979,"score":0},{"x":0.927,"score":0},{"x":1.032,"score":0},{"x":0.961,"score":0},{"x":1.082,"score":0},{"x":0.997,"score":0},{"x":0.913,"score":0},
      {"x":2.001,"score":64},{"x":1.927,"score":58},{"x":1.965,"score":51},{"x":1.992,"score":45},{"x":1.918,"score":42},{"x":1.976,"score":42},{"x":2.088,"score":42},{"x":1.977,"score":41},{"x":2.095,"score":40},{"x":2.043,"score":39},{"x":1.995,"score":37},{"x":2.088,"score":37},{"x":1.916,"score":34},{"x":1.936,"score":33},{"x":1.941,"score":31},{"x":2.063,"score":30.55},{"x":1.963,"score":25.85},{"x":1.971,"score":26},{"x":1.976,"score":25.07},{"x":2.065,"score":25.1},{"x":2.085,"score":24.77},{"x":1.997,"score":24.24},{"x":2.078,"score":23},{"x":1.998,"score":22.46},{"x":2.001,"score":21.83},{"x":1.925,"score":20},{"x":2.059,"score":18.23},{"x":2.003,"score":16.75},{"x":2.006,"score":14.46},{"x":2.066,"score":14.46},{"x":1.964,"score":13.95},{"x":1.92,"score":12},{"x":2.068,"score":12},{"x":1.999,"score":10.32},{"x":1.977,"score":9.25},{"x":2.011,"score":8.74},{"x":1.946,"score":7.94},{"x":2.094,"score":6.55},{"x":2.077,"score":3.75},{"x":1.942,"score":2.15},{"x":2.011,"score":0.56}
    ]
  },
  "hconcat": [
    {
      "width": 1408,
      "height": 1505,
      "title": {"text": "Anti-CRE Therapy", "anchor": "middle", "frame": "group", "fontSize": 36.7, "fontWeight": "normal", "color": "#1a1a1a", "font": "Liberation Sans", "baseline": "alphabetic", "offset": -19},
      "layer": [
        {
          "data": {"name": "anti_violin"},
          "mark": {"type": "area", "orient": "horizontal", "fillOpacity": 0.7, "stroke": "#333333", "strokeWidth": 4.3, "strokeJoin": "round"},
          "encoding": {
            "y": {"field": "score", "type": "quantitative", "scale": {"domain": [-4, 84], "nice": false, "zero": false}, "axis": {"title": "Score", "values": [0, 10, 20, 30, 40, 50, 60, 70, 80], "labelExpr": "datum.value % 20 === 0 ? datum.label : ''", "gridWidth": {"condition": {"test": "datum.value % 20 === 0", "value": 4.2}, "value": 2.1}, "labelPadding": 20, "titlePadding": 16}},
            "x": {"field": "lo", "type": "quantitative", "scale": {"domain": [0.4, 2.6], "nice": false, "zero": false}, "axis": {"title": "Action Taken", "values": [1, 2], "labelExpr": "datum.value === 1 ? 'No' : 'Yes'", "gridWidth": 4.2, "labelPadding": 20, "titlePadding": 12, "titleX": 1420}},
            "x2": {"field": "hi"},
            "color": {"field": "action", "type": "nominal", "scale": {"domain": ["No", "Yes"], "range": ["#90CAF9", "#EF5350"]}, "legend": null}
          }
        },
        {
          "data": {"name": "anti_box"},
          "mark": {"type": "rule", "color": "#333333", "strokeWidth": 4.3},
          "encoding": {
            "x": {"field": "pos", "type": "quantitative", "scale": {"domain": [0.4, 2.6], "nice": false, "zero": false}},
            "y": {"field": "lower", "type": "quantitative", "scale": {"domain": [-4, 84], "nice": false, "zero": false}},
            "y2": {"field": "q1"}
          }
        },
        {
          "data": {"name": "anti_box"},
          "mark": {"type": "rule", "color": "#333333", "strokeWidth": 4.3},
          "encoding": {
            "x": {"field": "pos", "type": "quantitative", "scale": {"domain": [0.4, 2.6], "nice": false, "zero": false}},
            "y": {"field": "q3", "type": "quantitative", "scale": {"domain": [-4, 84], "nice": false, "zero": false}},
            "y2": {"field": "upper"}
          }
        },
        {
          "data": {"name": "anti_box"},
          "mark": {"type": "bar", "orient": "vertical", "size": 192, "fillOpacity": 0.5, "stroke": "#333333", "strokeWidth": 4.3, "opacity": 1},
          "encoding": {
            "x": {"field": "pos", "type": "quantitative", "scale": {"domain": [0.4, 2.6], "nice": false, "zero": false}},
            "y": {"field": "q1", "type": "quantitative", "scale": {"domain": [-4, 84], "nice": false, "zero": false}},
            "y2": {"field": "q3"},
            "color": {"field": "action", "type": "nominal", "scale": {"domain": ["No", "Yes"], "range": ["#90CAF9", "#EF5350"]}, "legend": null}
          }
        },
        {
          "data": {"name": "anti_box"},
          "mark": {"type": "tick", "orient": "horizontal", "size": 196, "thickness": 8.5, "color": "#333333", "opacity": 1},
          "encoding": {
            "x": {"field": "pos", "type": "quantitative", "scale": {"domain": [0.4, 2.6], "nice": false, "zero": false}},
            "y": {"field": "median", "type": "quantitative", "scale": {"domain": [-4, 84], "nice": false, "zero": false}}
          }
        },
        {
          "data": {"name": "anti_points"},
          "mark": {"type": "circle", "size": 150, "color": "#000000", "fillOpacity": 0.3, "stroke": "#000000", "strokeOpacity": 0.3, "strokeWidth": 1.7, "opacity": 1},
          "encoding": {
            "x": {"field": "x", "type": "quantitative", "scale": {"domain": [0.4, 2.6], "nice": false, "zero": false}},
            "y": {"field": "score", "type": "quantitative", "scale": {"domain": [-4, 84], "nice": false, "zero": false}}
          }
        },
        {
          "data": {"name": "anti_box"},
          "mark": {"type": "point", "shape": "diamond", "filled": true, "size": 1150, "color": "#FFFF00", "stroke": "#000000", "strokeWidth": 2.8, "opacity": 1},
          "encoding": {
            "x": {"field": "pos", "type": "quantitative", "scale": {"domain": [0.4, 2.6], "nice": false, "zero": false}},
            "y": {"field": "mean", "type": "quantitative", "scale": {"domain": [-4, 84], "nice": false, "zero": false}}
          }
        }
      ]
    },
    {
      "width": 1408,
      "height": 1505,
      "title": {"text": "Diagnostic Test", "anchor": "middle", "frame": "group", "fontSize": 36.7, "fontWeight": "normal", "color": "#1a1a1a", "font": "Liberation Sans", "baseline": "alphabetic", "offset": -19},
      "layer": [
        {
          "data": {"name": "diag_violin"},
          "mark": {"type": "area", "orient": "horizontal", "fillOpacity": 0.7, "stroke": "#333333", "strokeWidth": 4.3, "strokeJoin": "round"},
          "encoding": {
            "y": {"field": "score", "type": "quantitative", "scale": {"domain": [-4, 84], "nice": false, "zero": false}, "axis": {"title": null, "labels": false, "values": [0, 10, 20, 30, 40, 50, 60, 70, 80], "gridWidth": {"condition": {"test": "datum.value % 20 === 0", "value": 4.2}, "value": 2.1}}},
            "x": {"field": "lo", "type": "quantitative", "scale": {"domain": [0.4, 2.6], "nice": false, "zero": false}, "axis": {"title": null, "values": [1, 2], "labelExpr": "datum.value === 1 ? 'No' : 'Yes'", "gridWidth": 4.2, "labelPadding": 20}},
            "x2": {"field": "hi"},
            "color": {"field": "action", "type": "nominal", "scale": {"domain": ["No", "Yes"], "range": ["#90CAF9", "#EF5350"]}, "legend": null}
          }
        },
        {
          "data": {"name": "diag_box"},
          "mark": {"type": "rule", "color": "#333333", "strokeWidth": 4.3},
          "encoding": {
            "x": {"field": "pos", "type": "quantitative", "scale": {"domain": [0.4, 2.6], "nice": false, "zero": false}},
            "y": {"field": "lower", "type": "quantitative", "scale": {"domain": [-4, 84], "nice": false, "zero": false}},
            "y2": {"field": "q1"}
          }
        },
        {
          "data": {"name": "diag_box"},
          "mark": {"type": "rule", "color": "#333333", "strokeWidth": 4.3},
          "encoding": {
            "x": {"field": "pos", "type": "quantitative", "scale": {"domain": [0.4, 2.6], "nice": false, "zero": false}},
            "y": {"field": "q3", "type": "quantitative", "scale": {"domain": [-4, 84], "nice": false, "zero": false}},
            "y2": {"field": "upper"}
          }
        },
        {
          "data": {"name": "diag_box"},
          "mark": {"type": "bar", "orient": "vertical", "size": 192, "fillOpacity": 0.5, "stroke": "#333333", "strokeWidth": 4.3, "opacity": 1},
          "encoding": {
            "x": {"field": "pos", "type": "quantitative", "scale": {"domain": [0.4, 2.6], "nice": false, "zero": false}},
            "y": {"field": "q1", "type": "quantitative", "scale": {"domain": [-4, 84], "nice": false, "zero": false}},
            "y2": {"field": "q3"},
            "color": {"field": "action", "type": "nominal", "scale": {"domain": ["No", "Yes"], "range": ["#90CAF9", "#EF5350"]}, "legend": null}
          }
        },
        {
          "data": {"name": "diag_box"},
          "mark": {"type": "tick", "orient": "horizontal", "size": 196, "thickness": 8.5, "color": "#333333", "opacity": 1},
          "encoding": {
            "x": {"field": "pos", "type": "quantitative", "scale": {"domain": [0.4, 2.6], "nice": false, "zero": false}},
            "y": {"field": "median", "type": "quantitative", "scale": {"domain": [-4, 84], "nice": false, "zero": false}}
          }
        },
        {
          "data": {"name": "diag_points"},
          "mark": {"type": "circle", "size": 150, "color": "#000000", "fillOpacity": 0.3, "stroke": "#000000", "strokeOpacity": 0.3, "strokeWidth": 1.7, "opacity": 1},
          "encoding": {
            "x": {"field": "x", "type": "quantitative", "scale": {"domain": [0.4, 2.6], "nice": false, "zero": false}},
            "y": {"field": "score", "type": "quantitative", "scale": {"domain": [-4, 84], "nice": false, "zero": false}}
          }
        },
        {
          "data": {"name": "diag_box"},
          "mark": {"type": "point", "shape": "diamond", "filled": true, "size": 1150, "color": "#FFFF00", "stroke": "#000000", "strokeWidth": 2.8, "opacity": 1},
          "encoding": {
            "x": {"field": "pos", "type": "quantitative", "scale": {"domain": [0.4, 2.6], "nice": false, "zero": false}},
            "y": {"field": "mean", "type": "quantitative", "scale": {"domain": [-4, 84], "nice": false, "zero": false}}
          }
        }
      ]
    }
  ],
  "config": {
    "view": {"stroke": null},
    "font": "Liberation Sans",
    "axis": {"domain": false, "ticks": false, "tickSize": 0, "grid": true, "gridColor": "#ebebeb", "labelFont": "Liberation Sans", "labelFontSize": 36.7, "labelColor": "#4d4d4d", "titleFont": "Liberation Sans", "titleFontSize": 45.8, "titleColor": "#000000", "titleFontWeight": "normal", "labelOverlap": false}
  }
}
